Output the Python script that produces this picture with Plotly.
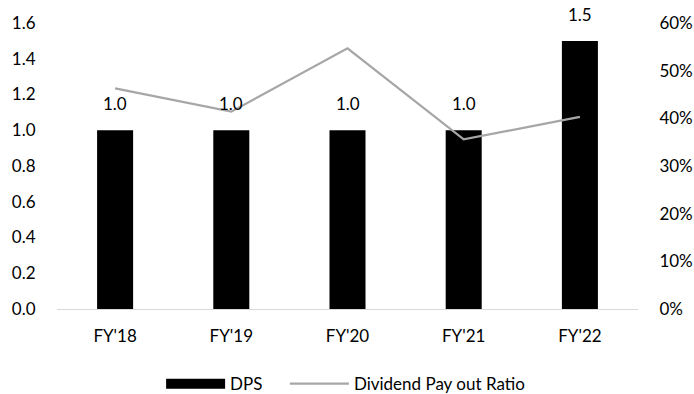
import plotly.graph_objects as go

categories = ["FY'18", "FY'19", "FY'20", "FY'21", "FY'22"]
dps = [1.0, 1.0, 1.0, 1.0, 1.5]
payout = [0.463, 0.414, 0.547, 0.356, 0.403]
dps_labels = ["1.0", "1.0", "1.0", "1.0", "1.5"]

FONT = "Lato"
FS = 17
fig = go.Figure()
fig.add_trace(go.Bar(x=categories, y=dps, marker=dict(color="#000000", line=dict(width=0)),
                     showlegend=False, yaxis="y"))
fig.add_trace(go.Scatter(x=categories, y=payout, mode="lines", yaxis="y2",
                         line=dict(color="#A6A6A6", width=2.2), showlegend=False))
# legend entries
fig.add_trace(go.Scatter(x=[None], y=[None], mode="lines", name="DPS\u00a0\u00a0\u00a0\u00a0",
                         line=dict(color="#000000", width=12)))
fig.add_trace(go.Scatter(x=[None], y=[None], mode="lines", name="Dividend Pay out Ratio",
                         line=dict(color="#A6A6A6", width=2.2), yaxis="y2"))

annotations = []
for c, v, t in zip(categories, dps, dps_labels):
    annotations.append(dict(x=c, y=v, xref="x", yref="y", text=t, showarrow=False,
                            yanchor="bottom", yshift=14,
                            font=dict(family=FONT, size=FS, color="#000000")))

fig.update_layout(
    width=694, height=394,
    margin=dict(l=57, r=56, t=23, b=85, autoexpand=False),
    paper_bgcolor="white", plot_bgcolor="white",
    font=dict(family=FONT, size=FS, color="#000000"),
    bargap=0.69,
    xaxis=dict(showgrid=False, showline=True, linecolor="#D9D9D9", linewidth=1,
               ticks="outside", ticklen=12, tickcolor="rgba(0,0,0,0)",
               tickfont=dict(family=FONT, size=FS), automargin=False),
    yaxis=dict(range=[0, 1.6], dtick=0.2, tickformat=".1f", showgrid=False,
               zeroline=False, showline=False, ticks="outside", ticklen=17,
               tickcolor="rgba(0,0,0,0)", tickfont=dict(family=FONT, size=FS),
               automargin=False),
    yaxis2=dict(range=[0, 0.6], dtick=0.1, tickformat=".0%", overlaying="y", side="right",
                showgrid=False, zeroline=False, showline=False, ticks="outside",
                ticklen=17, tickcolor="rgba(0,0,0,0)", tickfont=dict(family=FONT, size=FS),
                automargin=False),
    legend=dict(orientation="h", x=0.498, xanchor="center", xref="container",
                y=0.025, yanchor="middle", yref="container",
                itemwidth=59, font=dict(family=FONT, size=FS)),
    annotations=annotations,
)
fig.write_html("out.html")
